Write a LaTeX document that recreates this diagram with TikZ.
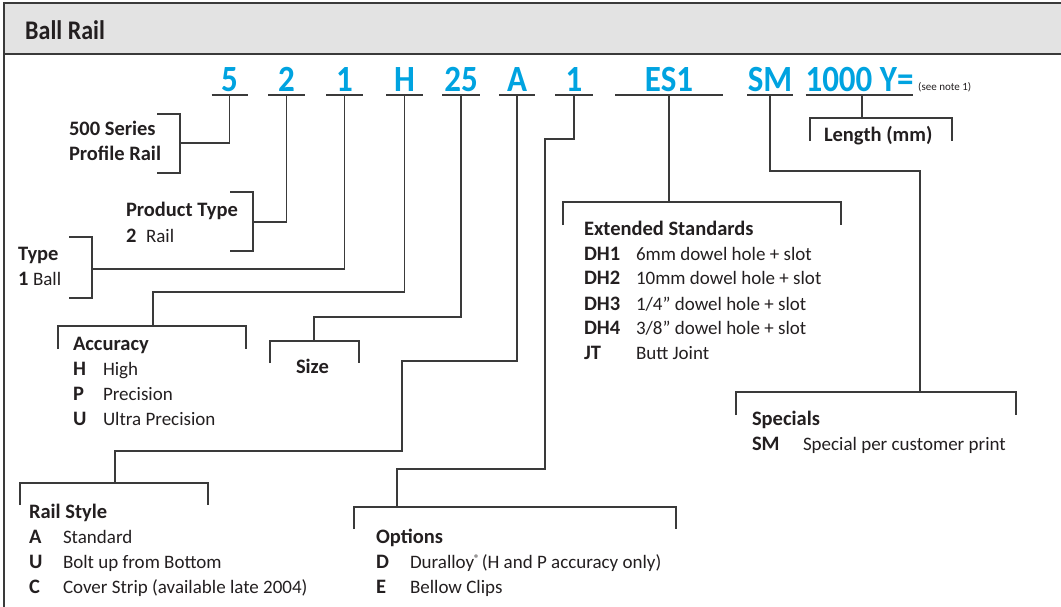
\documentclass[tikz,border=0pt]{standalone}
\usepackage{fontspec}
\setmainfont{Carlito}
\definecolor{cy}{HTML}{00A3E0}
\definecolor{ln}{HTML}{3A3A3A}
\definecolor{tx}{HTML}{231F20}
\definecolor{hdr}{HTML}{E3E3E3}
\newcommand\rg{\fontsize{19}{25}\selectfont\mdseries}
\newcommand\bd{\fontsize{20.5}{25}\selectfont\bfseries}
\newcommand\kv[3]{\makebox[#1][l]{\bd #2}{\rg #3}}
\newcommand\tall[1]{\scalebox{1}[1.12]{#1}}
\tikzset{
  lbl/.style={anchor=base west, inner sep=0, outer sep=0, text=tx, font=\bd},
  code/.style={anchor=base, inner sep=0, outer sep=0, text=cy, font=\fontsize{33}{33}\selectfont\bfseries},
  conn/.style={draw=ln, line width=1.3pt},
  brk/.style={draw=ln, line width=1.3pt},
  uline/.style={draw=ln, line width=1.6pt},
}
\begin{document}
\begin{tikzpicture}[x=1pt,y=-1pt]
\useasboundingbox (0,0) rectangle (1061,607);
% frame and header
\fill[hdr] (4,3) rectangle (1061,54);
\draw[ln, line width=1.3pt] (4,54) -- (1061,54);
\draw[ln, line width=2.2pt] (4,607) -- (4,3) -- (1061,3);
\node[anchor=base west, inner sep=0, font=\fontsize{24}{24}\selectfont\bfseries, text=tx] (title) at (25,40) {\tall{Ball Rail}};

% code row
\node[code, minimum width=36pt] (c5)  at (229.5,92) {\tall{5}};
\node[code, minimum width=37pt] (c2)  at (286.5,92) {\tall{2}};
\node[code, minimum width=37pt] (c1)  at (344.5,92) {\tall{1}};
\node[code, minimum width=37pt] (cH)  at (404.5,92) {\tall{H}};
\node[code, minimum width=38pt] (c25) at (461,92) {\tall{25}};
\node[code, minimum width=36pt] (cA)  at (517,92) {\tall{A}};
\node[code, minimum width=38pt] (cO)  at (574,92) {\tall{1}};
\node[code, minimum width=108pt] (cES) at (669,92) {\tall{ES1}};
\node[code, minimum width=46pt] (cSM) at (770,92) {\tall{SM}};
\node[code, minimum width=107pt] (cL) at (859.5,92) {\tall{1000 Y=}};
\node[anchor=base west, inner sep=0, font=\fontsize{11}{11}\selectfont, text=tx] (note) at (918,91) {(see note 1)};

\foreach \n in {c5,c2,c1,cH,c25,cA,cO,cES,cSM,cL}{
  \draw[uline] ([yshift=-3pt]\n.base west) -- ([yshift=-3pt]\n.base east);
}
\coordinate (u5)  at ([yshift=-3pt]c5.base);
\coordinate (u2)  at ([yshift=-3pt]c2.base);
\coordinate (u1)  at ([yshift=-3pt]c1.base);
\coordinate (uH)  at ([yshift=-3pt]cH.base);
\coordinate (u25) at ([yshift=-3pt]c25.base);
\coordinate (uA)  at ([yshift=-3pt]cA.base);
\coordinate (uO)  at ([yshift=-3pt]cO.base);
\coordinate (uES) at ([yshift=-3pt]cES.base);
\coordinate (uSM) at ([yshift=-3pt]cSM.base);
\coordinate (uL)  at ([xshift=2.5pt,yshift=-3pt]cL.base);

% bracket attach points
\coordinate (p500) at (180,143);
\coordinate (p2)   at (253,222);
\coordinate (p1)   at (92,269);
\coordinate (pacc) at (153,326);
\coordinate (psz)  at (314,341);
\coordinate (prs)  at (115,483);
\coordinate (popt) at (397,507);
\coordinate (pes)  at (669,202);
\coordinate (psp)  at (920,392);
\coordinate (plen) at (862,118);

% brackets
\draw[brk] (157,114) -| (180,173) -- (157,173);
\draw[brk] (230,192) -| (253,251) -- (230,251);
\draw[brk] (69,237) -| (92,298) -- (69,298);
\draw[brk] (58,349) |- (246,326) -- (246,349);
\draw[brk] (270,363) |- (359,341) -- (359,363);
\draw[brk] (20,505) |- (208,483) -- (208,505);
\draw[brk] (354,529) |- (676,507) -- (676,529);
\draw[brk] (563,225) |- (841,202) -- (841,225);
\draw[brk] (736,415) |- (1016,392) -- (1016,415);
\draw[brk] (810,141) |- (952,118) -- (952,141);

% connectors
\draw[conn] (u5) |- (p500);
\draw[conn] (u2) |- (p2);
\draw[conn] (u1) |- (p1);
\draw[conn] (uH) -- ++(0,197) -| (pacc);
\draw[conn] (u25) -- ++(0,222) -| (psz);
\draw[conn] (uA) -- ++(0,266) -| (402,451) -| (prs);
\draw[conn] (uO) -- ++(0,44) -| (545,469) -| (popt);
\draw[conn] (uES) -- (pes);
\draw[conn] (uSM) -- ++(0,76) -| (psp);
\draw[conn] (uL) -- (plen);

% labels
\node[lbl] (t500) at (69,136) {\begin{tabular}[t]{@{}l@{}}500 Series\\Profile Rail\end{tabular}};
\node[lbl] (tpt) at (126,217) {\begin{tabular}[t]{@{}l@{}}Product Type\\ \kv{20pt}{2}{Rail}\end{tabular}};
\node[lbl] (ttype) at (18,260) {\begin{tabular}[t]{@{}l@{}}Type\\ \kv{15pt}{1}{Ball}\end{tabular}};
\node[lbl] (tacc) at (73,350) {\begin{tabular}[t]{@{}l@{}}Accuracy\\ \kv{30pt}{H}{High}\\ \kv{30pt}{P}{Precision}\\ \kv{30pt}{U}{Ultra Precision}\end{tabular}};
\node[lbl] (tsize) at (296,373) {Size};
\node[lbl] (tes) at (584,235) {\begin{tabular}[t]{@{}l@{}}Extended Standards\\ \kv{52pt}{DH1}{6mm dowel hole + slot}\\ \kv{52pt}{DH2}{10mm dowel hole + slot}\\ \kv{52pt}{DH3}{1/4” dowel hole + slot}\\ \kv{52pt}{DH4}{3/8” dowel hole + slot}\\ \kv{52pt}{JT}{Butt Joint}\end{tabular}};
\node[lbl] (tsp) at (752,425) {\begin{tabular}[t]{@{}l@{}}Specials\\ \kv{51pt}{SM}{Special per customer print}\end{tabular}};
\node[lbl] (tlen) at (824,142) {Length (mm)};
\node[lbl] (trs) at (29,518) {\begin{tabular}[t]{@{}l@{}}Rail Style\\ \kv{34pt}{A}{Standard}\\ \kv{34pt}{U}{Bolt up from Bottom}\\ \kv{34pt}{C}{Cover Strip (available late 2004)}\end{tabular}};
\node[lbl] (topt) at (376,543) {\begin{tabular}[t]{@{}l@{}}Options\\ \kv{34pt}{D}{Duralloy\raisebox{6pt}{\fontsize{11}{11}\selectfont ®}\hspace{2pt}(H and P accuracy only)}\\ \kv{34pt}{E}{Bellow Clips}\end{tabular}};
\end{tikzpicture}
\end{document}
